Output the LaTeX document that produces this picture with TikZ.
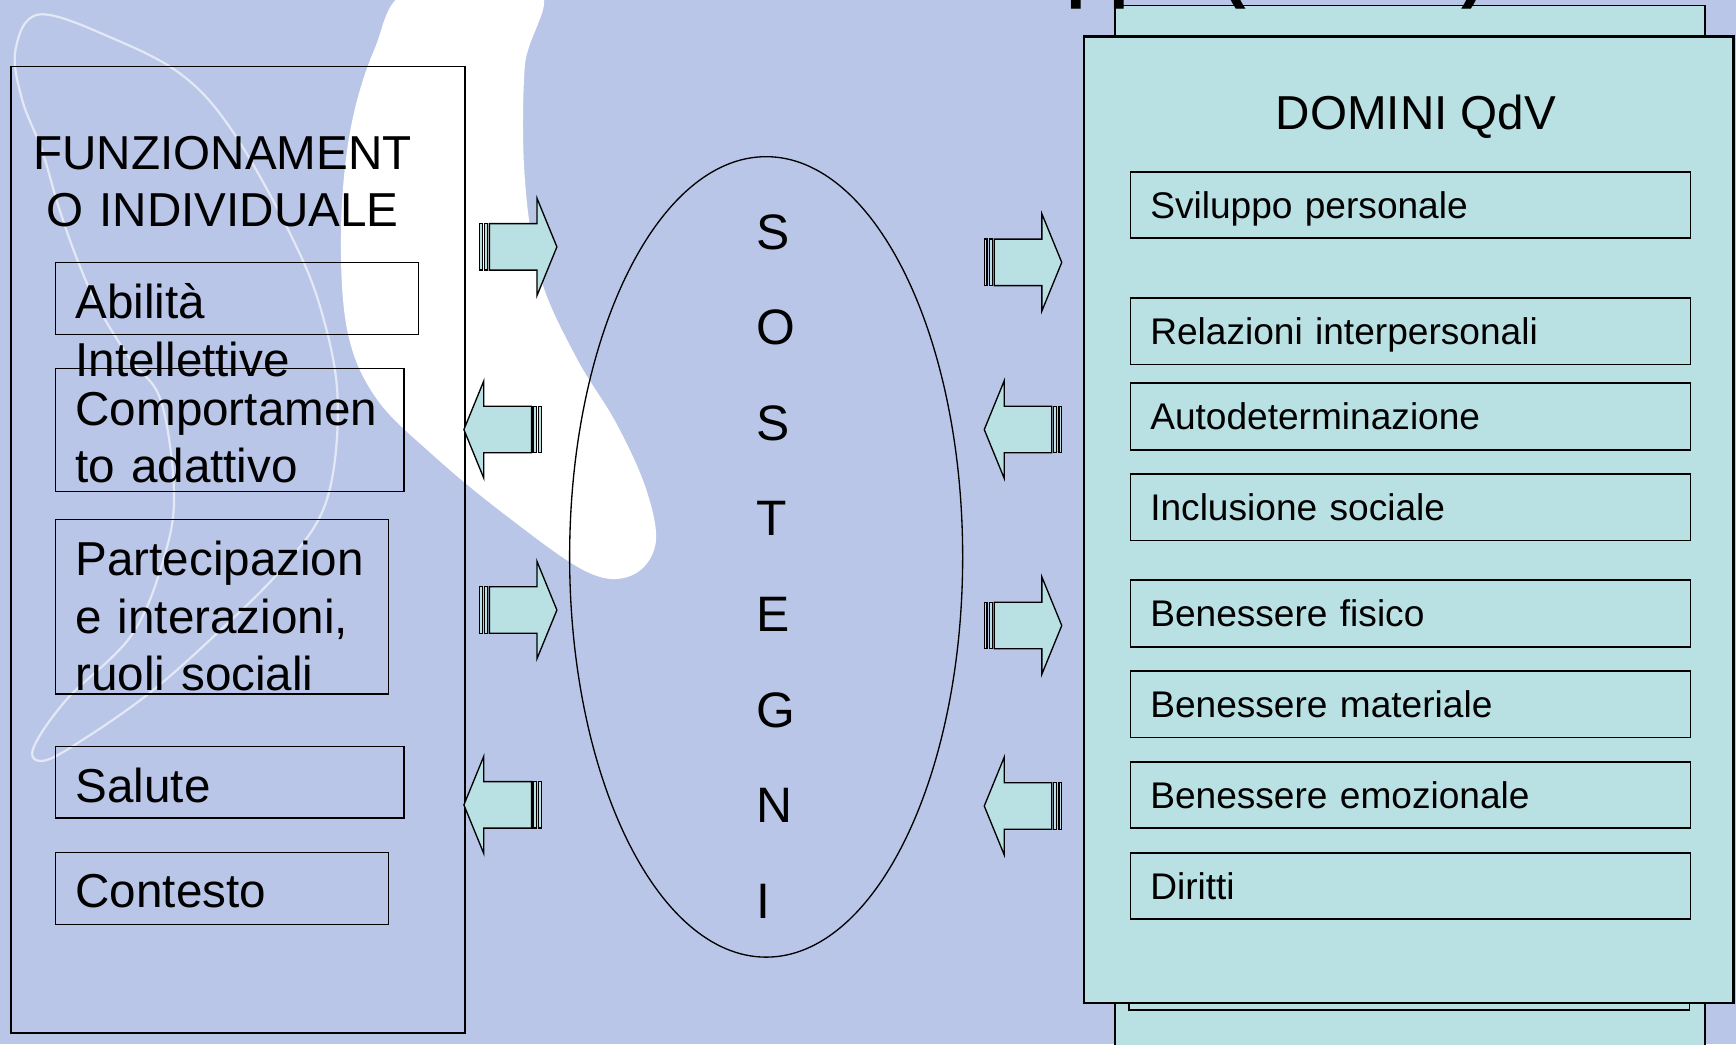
\documentclass[tikz,border=0pt]{standalone}
\usepackage{fontspec}
\setmainfont{Liberation Sans}
\usetikzlibrary{matrix,shapes.geometric}

\definecolor{slidebg}{RGB}{186,198,232}
\definecolor{aqua}{RGB}{185,224,227}

\begin{document}
\begin{tikzpicture}[x=1pt,y=-1pt,
  leftitem/.style={draw,line width=1.3pt,inner sep=0pt,outer sep=0pt,anchor=north west},
  lefttext/.style={anchor=base west,inner sep=0pt,text width=320pt,align=left,font=\fontsize{43}{52}\selectfont},
  arrbody/.style={draw,line width=1.2pt,fill=aqua,line join=miter},
  stackbox/.style={draw,fill=aqua,inner sep=0pt,outer sep=0pt,anchor=north west}]

\clip (0,0) rectangle (1568,943);
\fill[slidebg] (0,0) rectangle (1568,943);
% background swoosh and thin loop
\fill[white] plot[smooth cycle,tension=0.6] coordinates {(372,-10) (338,45) (316,120) (308,211) (314,300) (340,360) (391,411) (455,464) (529,516) (570,520) (592,492) (584,443) (557,383) (520,322) (488,250) (474,161) (474,60) (486,-10)};
\draw[white,line width=2pt,opacity=0.6] plot[smooth cycle,tension=0.6] coordinates {(36,13) (105,36) (166,69) (211,120) (262,211) (290,280) (305,361) (295,452) (256,512) (196,572) (135,626) (75,668) (40,687) (30,676) (60,632) (120,572) (150,497) (157,440) (145,361) (118,325) (90,280) (70,235) (53,187) (38,136) (20,90) (14,45)};

% left column
\node[draw,line width=1.5pt,inner sep=0pt,outer sep=0pt,anchor=north west,minimum width=410pt,minimum height=873pt] (func) at (10,60) {};
\node[anchor=base,inner sep=0pt,text width=400pt,align=center,font=\fontsize{43}{52}\selectfont] (functitle) at (201,153) {FUNZIONAMENT\\O INDIVIDUALE};

\node[leftitem,minimum width=328pt,minimum height=65pt] (abil) at (50,237) {};
\node[leftitem,minimum width=315pt,minimum height=111pt] (comp) at (50,333) {};
\node[leftitem,minimum width=301pt,minimum height=158pt] (part) at (50,469) {};
\node[leftitem,minimum width=315pt,minimum height=65pt] (sal) at (50,674) {};
\node[leftitem,minimum width=301pt,minimum height=65pt] (cont) at (50,770) {};

\node[lefttext] (abiltxt) at ([xshift=18pt,yshift=-51pt]abil.north west) {Abilità\\Intellettive};
\node[lefttext] (comptxt) at ([xshift=18pt,yshift=-51pt]comp.north west) {Comportamen\\to adattivo};
\node[lefttext] (parttxt) at ([xshift=18pt,yshift=-51pt]part.north west) {Partecipazion\\e interazioni,\\ruoli sociali};
\node[lefttext] (saltxt) at ([xshift=18pt,yshift=-51pt]sal.north west) {Salute};
\node[lefttext] (conttxt) at ([xshift=18pt,yshift=-50pt]cont.north west) {Contesto};

% sostegni
\node[draw,ellipse,line width=1.2pt,inner sep=0pt,minimum width=355pt,minimum height=723pt] (sostell) at (692,503) {};
\matrix (sost) [matrix of nodes,anchor=north west,inner sep=0pt,row sep=52.3pt,
  nodes={anchor=base west,inner sep=0pt,outer sep=0pt,text height=34pt,text depth=0pt,font=\fontsize{45}{45}\selectfont}] at (683,191) {
S\\ O\\ S\\ T\\ E\\ G\\ N\\ I\\
};

% striped block arrows
\foreach \ax/\ay/\dir in {433/223/1,489/388/-1,433/551/1,489/727/-1,889/237/1,959/388/-1,889/565/1,959/728/-1}{
  \begin{scope}[shift={(\ax,\ay)},xscale=\dir]
    \draw[arrbody] (0,-21) rectangle (2.5,21);
    \draw[arrbody] (4.5,-21) rectangle (7.5,21);
    \draw[arrbody] (9,-21) -- (52,-21) -- (52,-44) -- (70,0) -- (52,44) -- (52,21) -- (9,21) -- cycle;
  \end{scope}
}

% domini stack
\node[stackbox,line width=1.5pt,minimum width=533pt,minimum height=960pt] (domback) at (1007,5) {};
\node[stackbox,line width=1.5pt,minimum width=506pt,minimum height=812pt] (dommid) at (1020,100) {};
\node[stackbox,line width=2.5pt,minimum width=587pt,minimum height=873pt] (dom) at (979,33) {};
\node[anchor=base,inner sep=0pt,font=\fontsize{43}{43}\selectfont] (domtitle) at (1279,117) {DOMINI QdV};

\matrix (qdv) [matrix of nodes,anchor=north west,inner sep=0pt,row sep=20.5pt,
  nodes={draw,line width=1.5pt,minimum height=60pt,text width=470pt,inner xsep=18pt,inner ysep=0pt,outer sep=0pt,align=left,text height=24pt,text depth=0pt,font=\fontsize{33.5}{40}\selectfont}] at (1020,154.2) {
Sviluppo personale\\[32pt]
Relazioni interpersonali\\[-5pt]
Autodeterminazione\\
Inclusione sociale\\[14pt]
Benessere fisico\\
Benessere materiale\\
Benessere emozionale\\
Diritti\\
};

% title cut off at the top
\node[anchor=base west,inner sep=0pt,font=\fontsize{64}{64}\selectfont\bfseries] (toptxta) at (963,-5) {pp};
\node[anchor=base west,inner sep=0pt,font=\fontsize{64}{64}\selectfont\bfseries] (toptxtb) at (1104,-5) {(};
\node[anchor=base west,inner sep=0pt,font=\fontsize{64}{64}\selectfont\bfseries] (toptxtc) at (1320,-5) {)};
\end{tikzpicture}
\end{document}
